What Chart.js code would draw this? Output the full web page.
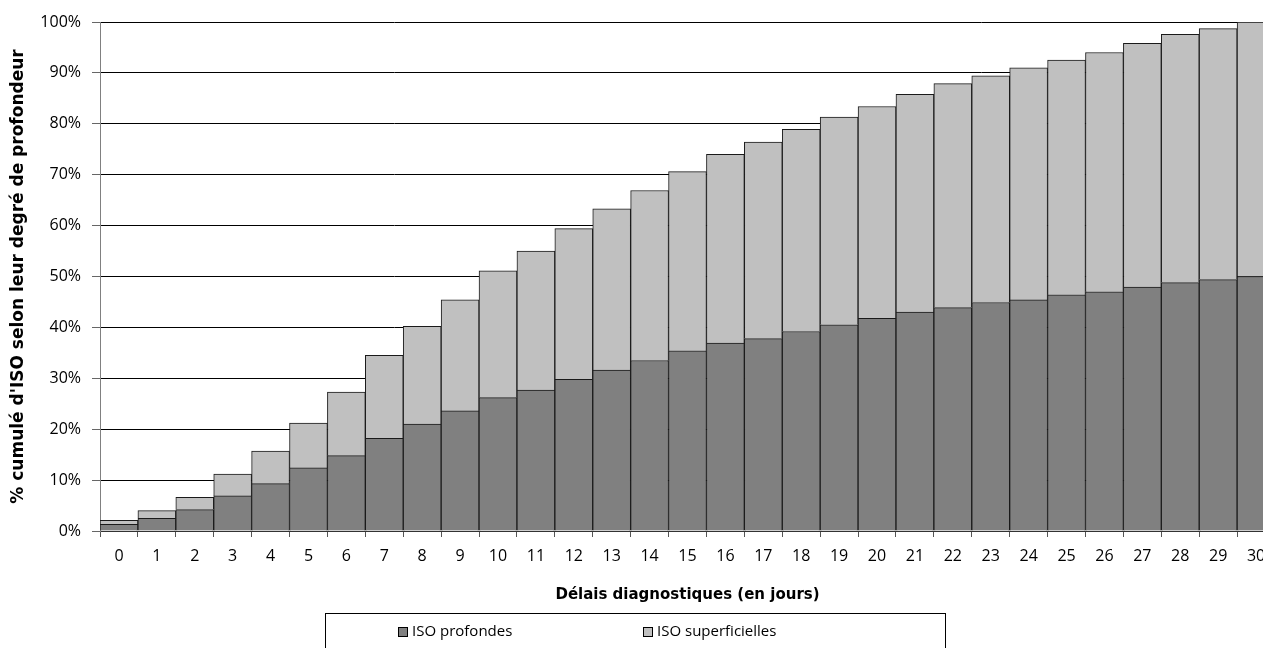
<!DOCTYPE html>
<html>
<head>
<meta charset="utf-8">
<script src="https://cdn.jsdelivr.net/npm/chart.js@4.4.1/dist/chart.umd.min.js"></script>
<style>
  html, body { margin: 0; padding: 0; overflow: hidden; background: #fff; }
  #wrap { width: 1278px; height: 648px; position: relative; }
</style>
</head>
<body>
<div id="wrap"><canvas id="isoChart"></canvas></div>
<script>
// Days after surgery (x categories)
const jours = ['0', '1', '2', '3', '4', '5', '6', '7', '8', '9', '10', '11', '12', '13', '14', '15',
  '16', '17', '18', '19', '20', '21', '22', '23', '24', '25', '26', '27', '28', '29', '30'];

// Cumulative % of deep SSI (dark part)
const isoProfondes = [1.3, 2.5, 4.2, 6.9, 9.3, 12.4, 14.8, 18.2, 21.0, 23.6, 26.2, 27.7, 29.8, 31.6, 33.5, 35.4,
  36.9, 37.8, 39.2, 40.5, 41.8, 43.0, 43.9, 44.9, 45.4, 46.4, 47.0, 47.9, 48.8, 49.4, 50.0];

// Cumulative % of superficial SSI (light part, stacked on top)
const isoSuperficielles = [0.8, 1.5, 2.4, 4.3, 6.4, 8.8, 12.5, 16.3, 19.2, 21.8, 24.9, 27.3, 29.6, 31.7, 33.4, 35.2,
  37.1, 38.6, 39.7, 40.8, 41.6, 42.8, 44.0, 44.5, 45.6, 46.1, 47.0, 47.9, 48.8, 49.3, 50.0];

// Y tick labels
const yTicks = [0, 10, 20, 30, 40, 50, 60, 70, 80, 90, 100];

const darkGrey = '#808080',
  lightGrey = '#c0c0c0',
  edgeColor = '#1a1a1a',
  textColor = '#000000',
  baseFont = "'Open Sans', 'DejaVu Sans', sans-serif",
  titleFont = "'DejaVu Sans', 'Open Sans', sans-serif";

// Legend drawn as a framed box under the axis title
const boxLegend = {
  id: 'boxLegend',
  afterDraw(chart) {
    const ctx = chart.ctx;
    ctx.save();
    ctx.strokeStyle = '#000';
    ctx.lineWidth = 1;
    ctx.strokeRect(325.5, 613.5, 620, 60);
    const items = [
      { x: 398, ds: chart.data.datasets[0] },
      { x: 643, ds: chart.data.datasets[1] }
    ];
    items.forEach(function (it) {
      ctx.fillStyle = it.ds.backgroundColor;
      ctx.fillRect(it.x, 627, 9, 9);
      ctx.strokeStyle = '#000';
      ctx.strokeRect(it.x + 0.5, 627.5, 9, 9);
      ctx.fillStyle = textColor;
      ctx.font = '15px ' + baseFont;
      ctx.textBaseline = 'middle';
      ctx.textAlign = 'left';
      ctx.fillText(it.ds.label, it.x + 14, 632);
    });
    ctx.restore();
  }
};

new Chart(document.getElementById('isoChart'), {
  type: 'bar',
  data: {
    labels: jours,
    datasets: [
      {
        label: 'ISO profondes',
        data: isoProfondes,
        backgroundColor: darkGrey,
        borderColor: edgeColor,
        borderWidth: 1,
        borderSkipped: 'bottom',
        barPercentage: 1,
        categoryPercentage: 1
      },
      {
        label: 'ISO superficielles',
        data: isoSuperficielles,
        backgroundColor: lightGrey,
        borderColor: edgeColor,
        borderWidth: 1,
        borderSkipped: 'bottom',
        barPercentage: 1,
        categoryPercentage: 1
      }
    ]
  },
  options: {
    responsive: true,
    maintainAspectRatio: false,
    animation: false,
    layout: {
      padding: { top: 22, right: 3, bottom: 40, left: 0 }
    },
    plugins: {
      legend: { display: false },
      tooltip: { enabled: false }
    },
    scales: {
      x: {
        stacked: true,
        offset: true,
        grid: {
          offset: true,
          drawOnChartArea: false,
          drawTicks: true,
          tickLength: 6,
          tickColor: '#555'
        },
        border: { color: '#333', width: 1 },
        ticks: {
          color: textColor,
          padding: 10,
          maxRotation: 0,
          autoSkip: false,
          font: { family: baseFont, size: 16 }
        },
        title: {
          display: true,
          text: 'Délais diagnostiques (en jours)',
          color: textColor,
          padding: { top: 0, bottom: 4 },
          font: { family: titleFont, size: 15, weight: 'bold' }
        },
        afterFit(scale) {
          scale.height = 77;
        }
      },
      y: {
        stacked: true,
        min: 0,
        max: 100,
        afterBuildTicks(scale) {
          scale.ticks = yTicks.map(function (v) { return { value: v }; });
        },
        grid: {
          color: '#000',
          lineWidth: 1,
          drawTicks: true,
          tickLength: 8,
          tickColor: '#666'
        },
        border: { color: '#808080', width: 1 },
        ticks: {
          color: textColor,
          padding: 11,
          font: { family: baseFont, size: 16 },
          callback: function (v) { return v + '%'; }
        },
        title: {
          display: true,
          text: "% cumulé d'ISO selon leur degré de profondeur",
          color: textColor,
          padding: { top: 8, bottom: 0 },
          font: { family: titleFont, size: 17, weight: 'bold' }
        },
        afterFit(scale) {
          scale.width = 100;
        }
      }
    }
  },
  plugins: [boxLegend]
});
</script>
</body>
</html>
